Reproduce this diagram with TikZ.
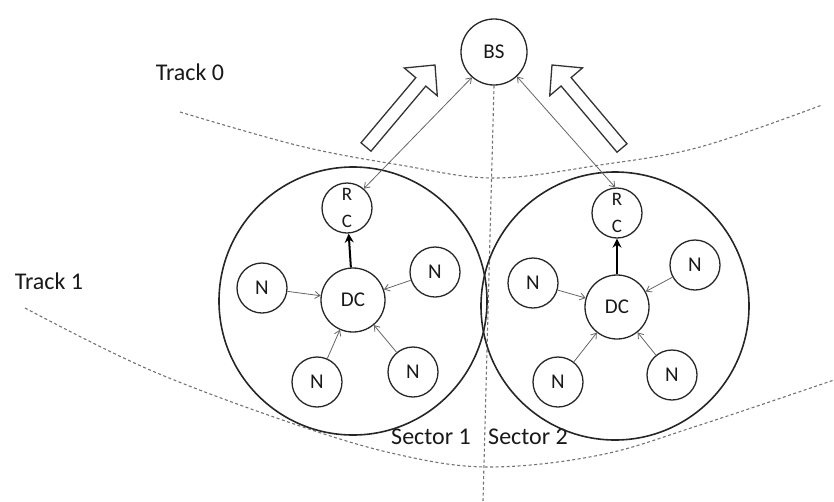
\documentclass[tikz,border=0pt]{standalone}
\usepackage{fontspec}
\setmainfont{Carlito}
\usetikzlibrary{arrows.meta}
\begin{document}
\begin{tikzpicture}[x=1pt,y=-1pt,
  sectorring/.style={circle,draw=black!85,line width=1.6pt,minimum size=268pt,inner sep=0pt},
  unit/.style={circle,draw=black!85,line width=1.3pt,inner sep=0pt,font=\fontsize{21}{23}\selectfont,text=black!90},
  nnode/.style={unit,minimum size=50pt},
  dcnode/.style={unit,minimum size=64pt},
  rcnode/.style={unit,minimum size=50pt,align=center,font=\fontsize{19}{27}\selectfont},
  bsnode/.style={unit,minimum size=66pt,font=\fontsize{21}{24}\selectfont},
  track/.style={draw=black!55,line width=1.1pt,dash pattern=on 3pt off 2.5pt},
  feed/.style={draw=black!60,line width=0.8pt,-{Straight Barb[length=5pt,width=7pt]}},
  link/.style={draw=black!60,line width=0.8pt,{Straight Barb[length=5pt,width=7pt]}-{Straight Barb[length=5pt,width=7pt]}},
  upward/.style={draw=black,line width=2pt,-{Stealth[length=9pt,width=9pt]}},
  tracktext/.style={font=\fontsize{24}{28}\selectfont,inner sep=0pt,text=black!90},
  bigarrow/.style={draw=black!80,line width=1.3pt,line join=miter}
]
\useasboundingbox (0,0) rectangle (834,501);

% track boundaries
\draw[track] plot[smooth,tension=0.6] coordinates
  {(180,112) (300,146) (400,165) (494,178) (600,165) (700,147) (822,105)};
\draw[track] plot[smooth,tension=0.6] coordinates
  {(25,308) (150,370) (297,425) (400,455) (490,467) (600,455) (700,425) (834,380)};

% base station
\node[bsnode] (bs) at (494,52) {BS};
\coordinate (axisend) at (483,501);
\draw[track] (bs.south) -- (axisend);

% track and sector labels
\node[tracktext] (t0) at (190,72) {Track 0};
\node[tracktext] (t1) at (49,281) {Track 1};
\node[tracktext] (s1) at (431,437) {Sector 1};
\node[tracktext] (s2) at (528,437) {Sector 2};

% sector 1
\node[sectorring] (sec1) at (353,301) {};
\node[rcnode] (rc1) at (347,208) {R\\C};
\node[dcnode] (dc1) at (353,300) {DC};
\node[nnode] (n11) at (262,288) {N};
\node[nnode] (n12) at (435,272) {N};
\node[nnode] (n13) at (317,382) {N};
\node[nnode] (n14) at (413,372) {N};
\foreach \n in {n11,n12,n13,n14} \draw[feed] (\n) -- (dc1);
\draw[upward] (dc1) -- (rc1);

% sector 2
\node[sectorring] (sec2) at (615,306) {};
\node[rcnode] (rc2) at (617,213) {R\\C};
\node[dcnode] (dc2) at (617,307) {DC};
\node[nnode] (n21) at (533,283) {N};
\node[nnode] (n22) at (695,265) {N};
\node[nnode] (n23) at (558,382) {N};
\node[nnode] (n24) at (672,375) {N};
\foreach \n in {n21,n22,n23,n24} \draw[feed] (\n) -- (dc2);
\draw[upward] (dc2) -- (rc2);

% links between the cluster heads and the base station
\draw[link] (bs.-131) -- (rc1.49);
\draw[link] (bs.-47) -- (rc2.94);

% hollow arrows towards the base station
\draw[bigarrow] (361.0,142.8) -- (415.8,77.7) -- (404.3,68.0) -- (435.0,65.0)
  -- (437.3,95.8) -- (425.8,86.1) -- (371.0,151.2) -- cycle;
\draw[bigarrow] (627.0,143.8) -- (571.1,77.6) -- (582.5,67.9) -- (552.0,65.0)
  -- (549.7,95.7) -- (561.1,86.0) -- (617.0,152.2) -- cycle;
\end{tikzpicture}
\end{document}
